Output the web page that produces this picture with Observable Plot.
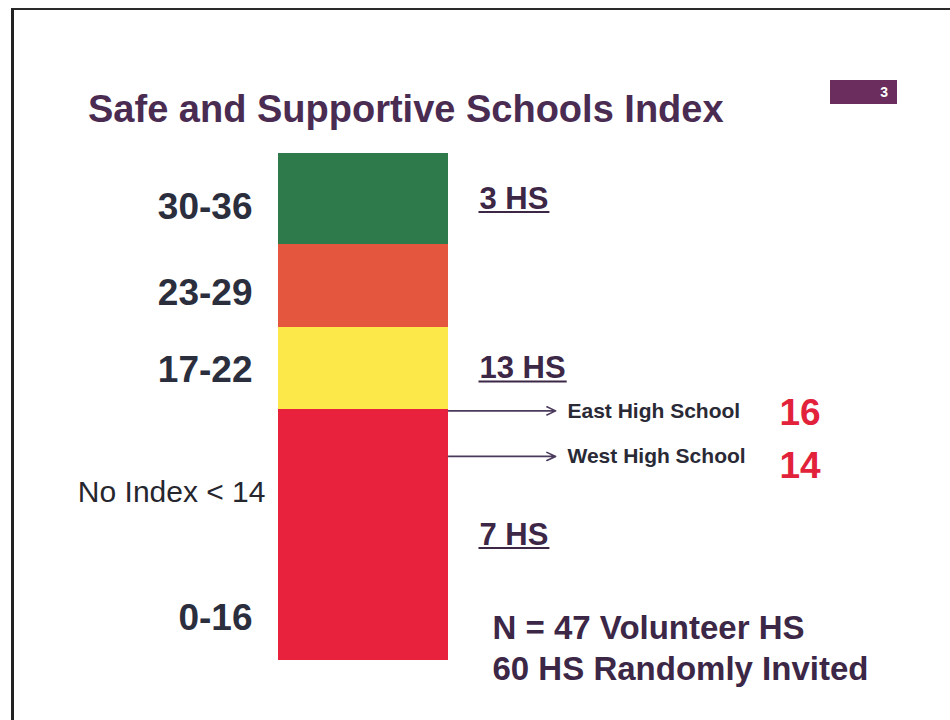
<!DOCTYPE html>
<html>
<head>
<meta charset="utf-8">
<script src="https://cdn.jsdelivr.net/npm/d3@7"></script>
<script src="https://cdn.jsdelivr.net/npm/@observablehq/plot@0.6"></script>
<style>
  html, body { margin: 0; padding: 0; background: #fff; }
  #slide { position: relative; width: 950px; height: 720px; overflow: hidden; font-family: "Liberation Sans", Arial, sans-serif; }
  #frame { position: absolute; left: 11px; top: 8px; width: 960px; height: 730px; border-top: 2px solid #2a2a2a; border-left: 3px solid #222; }
  #title { position: absolute; left: 88px; top: 90px; margin: 0; font-size: 38px; line-height: 38px; font-weight: bold; color: #4a2c52; white-space: nowrap; }
  #page { position: absolute; left: 830px; top: 80px; width: 67px; height: 24px; background: #6a2d5e; color: #fff; font-size: 14px; font-weight: bold; line-height: 24px; text-align: right; box-sizing: border-box; padding-right: 9px; }
  #chart { position: absolute; left: 0; top: 140px; }
</style>
</head>
<body>
<div id="slide">
  <div id="frame"></div>
  <h1 id="title">Safe and Supportive Schools Index</h1>
  <div id="page">3</div>
  <div id="chart"></div>
</div>
<script>
// ---- data ----
const bandLabels = ["0-16", "17-22", "23-29", "30-36"];
const bandLow = [0, 17, 23, 30];
const bandHigh = [16, 22, 29, 36];
const bandColors = ["#e8213d", "#fde84a", "#e4573e", "#2f7a4a"];
const bandCounts = [7, 13, null, 3];
const schoolNames = ["East High School", "West High School"];
const schoolScores = [16, 14];
const noIndexValue = 14;
const volunteerHS = 47;
const invitedHS = 60;

// ---- tables built from the arrays ----
const bands = bandLabels.map((label, i) => ({
  label, low: bandLow[i], high: bandHigh[i], count: bandCounts[i]
}));
const schools = schoolNames.map((name, i) => ({ name, score: schoolScores[i] }));

const font = '"Liberation Sans", Arial, sans-serif';

// layout nudges for the two annotation rows (slide is not drawn to scale)
const rowNudge = [-6, 10];
const scoreNudge = [-4, 20];

const schoolMarks = schools.flatMap((s, i) => [
  Plot.arrow([s], {
    x1: () => 1, x2: () => 1.63, y1: "score", y2: "score", dy: rowNudge[i],
    stroke: "#4a3a5c", strokeWidth: 1.6, headLength: 9, headAngle: 50
  }),
  Plot.text([s], {
    x: () => 1, y: "score", text: "name", dy: rowNudge[i],
    dx: 119, textAnchor: "start", lineAnchor: "middle",
    fontSize: 21, fontWeight: "bold", fill: "#2a2a36"
  }),
  Plot.text([s], {
    x: () => 1, y: "score", text: d => String(d.score), dy: scoreNudge[i],
    dx: 331, textAnchor: "start", lineAnchor: "middle",
    fontSize: 37, fontWeight: "bold", fill: "#e2223a"
  })
]);

const countRows = bands.filter(d => d.count != null);

const chart = Plot.plot({
  width: 950,
  height: 580,
  margin: 0,
  style: { fontFamily: font, background: "transparent", overflow: "visible" },
  x: { type: "linear", domain: [0, 1], range: [278, 448], axis: null },
  y: { type: "linear", domain: [-0.5, 16.5, 22.5, 29.5, 36.5], range: [520, 269, 187, 104, 13], axis: null },
  color: { type: "ordinal", domain: bandLabels, range: bandColors },
  marks: [
    Plot.rect(bands, {
      x1: () => 0, x2: () => 1,
      y1: d => d.low - 0.5, y2: d => d.high + 0.5,
      fill: "label"
    }),
    // range labels (left)
    Plot.text(bands, {
      x: () => 0, y: d => d.low + 2.4, text: "label",
      dx: -26, textAnchor: "end", lineAnchor: "middle",
      fontSize: 37, fontWeight: "bold", fill: "#2b2e3d"
    }),
    // no index note
    Plot.text([noIndexValue], {
      x: () => 0, y: d => d, text: d => `No Index < ${d}`,
      dx: -13, dy: 46, textAnchor: "end", lineAnchor: "middle",
      fontSize: 30, fill: "#25262e"
    }),
    // counts (right, underlined)
    Plot.text(countRows, {
      x: () => 1, y: d => (d.low + d.high) / 2, text: d => `${d.count} HS`,
      dx: 31, textAnchor: "start", lineAnchor: "middle",
      fontSize: 31, fontWeight: "bold", fill: "#3c2747"
    }),
    ...schoolMarks,
    // sample note
    Plot.text([`N = ${volunteerHS} Volunteer HS\n${invitedHS} HS Randomly Invited`], {
      x: () => 1, y: () => -0.5, text: d => d,
      dx: 44, dy: -14, textAnchor: "start", lineAnchor: "middle", lineHeight: 1.22,
      fontSize: 33, fontWeight: "bold", fill: "#3c2747"
    })
  ]
});

document.getElementById("chart").appendChild(chart);

// underline the count labels, measured from the rendered text
const countLabels = new Set(countRows.map(d => `${d.count} HS`));
const chartBox = chart.getBoundingClientRect();
const underlineLayer = d3.select(chart).append("g").attr("aria-label", "underlines");
d3.select(chart).selectAll("text")
  .filter(function () { return countLabels.has(this.textContent); })
  .each(function () {
    const r = this.getBoundingClientRect();
    const x1 = r.left - chartBox.left - 1;
    const x2 = r.right - chartBox.left + 1;
    const y = r.bottom - chartBox.top - 4;
    underlineLayer.append("line")
      .attr("x1", x1).attr("x2", x2)
      .attr("y1", y).attr("y2", y)
      .attr("stroke", "#3c2747").attr("stroke-width", 2);
  });
</script>
</body>
</html>
